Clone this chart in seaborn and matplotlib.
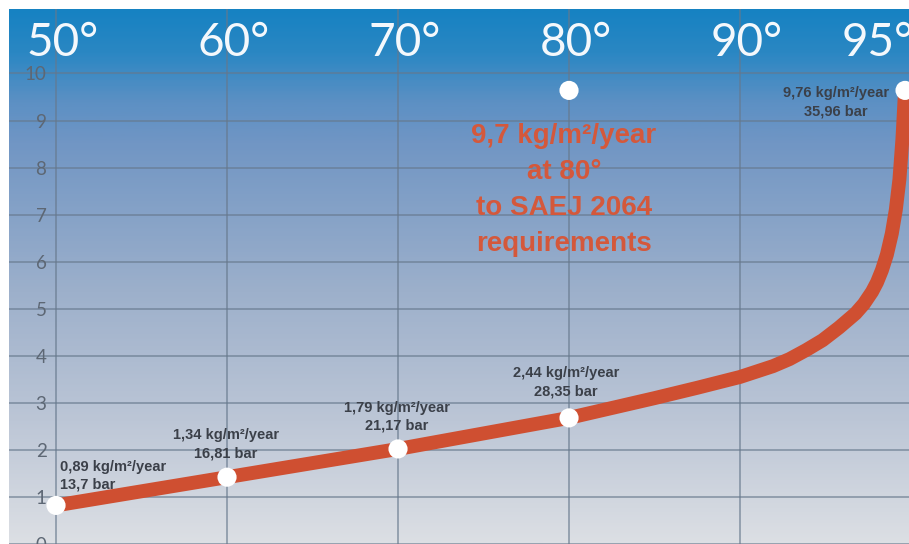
import matplotlib
matplotlib.use("Agg")
import matplotlib.pyplot as plt
import numpy as np
import pandas as pd
import seaborn as sns
from matplotlib.colors import LinearSegmentedColormap

# temperature axis labels (top)
temp_ticks = [50, 60, 70, 80, 90, 95]
temp_labels = ["50°", "60°", "70°", "80°", "90°", "95°"]
y_ticks = [0, 1, 2, 3, 4, 5, 6, 7, 8, 9, 10]

# curve (temperature, rate)
curve_temp = [50, 60, 70, 80, 85, 87.5, 90, 91, 91.5, 92, 92.5, 93, 93.5, 93.75,
              94, 94.15, 94.3, 94.45, 94.6, 94.72, 94.83, 94.92, 95]
curve_rate = [0.82, 1.42, 2.02, 2.68, 3.1, 3.32, 3.55, 3.78, 3.93, 4.12, 4.33,
              4.6, 4.9, 5.1, 5.36, 5.56, 5.82, 6.15, 6.6, 7.1, 7.75, 8.6, 9.64]

# measured points
point_temp = [50, 60, 70, 80, 95]
point_rate = [0.82, 1.42, 2.02, 2.68, 9.64]
point_text = ["0,89 kg/m²/year\n13,7 bar",
              "1,34 kg/m²/year\n16,81 bar",
              "1,79 kg/m²/year\n21,17 bar",
              "2,44 kg/m²/year\n28,35 bar",
              "9,76 kg/m²/year\n35,96 bar"]

# SAEJ 2064 reference point
ref_temp = [80]
ref_rate = [9.64]
ref_text = "9,7 kg/m²/year\nat 80°\nto SAEJ 2064\nrequirements"

RED = "#cf4f31"

sns.set_theme(style="white")
plt.rcParams['font.family'] = ['Liberation Sans', 'DejaVu Sans']


def fwd(t):
    t = np.asarray(t, dtype=float)
    return np.where(t <= 90, t, 90 + 1.93 * (t - 90))


def inv(p):
    p = np.asarray(p, dtype=float)
    return np.where(p <= 90, p, 90 + (p - 90) / 1.93)


fig = plt.figure(figsize=(9.09, 5.44), dpi=100, facecolor="white")
rect = [9 / 909, 0, 900 / 909, 535 / 544]

# background gradient
bg = fig.add_axes(rect, zorder=0)
cmap = LinearSegmentedColormap.from_list("bg", [
    (0.0, "#1682c2"), (0.08, "#2b87c3"), (0.17, "#5c90c4"), (0.25, "#7196c4"),
    (0.53, "#9db0cb"), (0.77, "#bcc6d6"), (1.0, "#dcdfe4")])
grad = np.linspace(0, 1, 300).reshape(-1, 1)
bg.imshow(grad, aspect="auto", cmap=cmap, extent=[0, 1, 0, 1])
bg.axis("off")

ax = fig.add_axes(rect, zorder=1)
ax.set_facecolor("none")
ax.set_xscale("function", functions=(fwd, inv))
ax.set_xlim(47.25, 95.12)
ax.set_ylim(0.105, 11.37)

ax.set_xticks(temp_ticks[:-1])
ax.set_yticks(y_ticks)
ax.set_xticklabels([])
ax.set_yticklabels([str(v) for v in y_ticks], family="Lato", fontsize=13.5, color="#5d6774")
ax.tick_params(axis="y", pad=-27, length=0)
ax.tick_params(axis="x", length=0)
ax.grid(True, color="#66788c", linewidth=1.1, alpha=0.75)
for s in ax.spines.values():
    s.set_visible(False)

df = pd.DataFrame({"temp": curve_temp, "rate": curve_rate})
sns.lineplot(data=df, x="temp", y="rate", ax=ax, color=RED, linewidth=10,
             sort=False, solid_capstyle="butt", solid_joinstyle="round", zorder=3)
pts = pd.DataFrame({"temp": point_temp + ref_temp, "rate": point_rate + ref_rate})
sns.scatterplot(data=pts, x="temp", y="rate", ax=ax, color="white", s=190,
                edgecolor="none", zorder=4, clip_on=True)
ax.set_xlabel("")
ax.set_ylabel("")

# top temperature labels
for t, lbl in zip(temp_ticks, temp_labels):
    dx = 5 if t != 95 else -20
    ax.annotate(lbl, (t, 10.64), xytext=(dx, 0), textcoords="offset points",
                ha="center", va="center", fontsize=33, color="#f4f8fc",
                family="Lato", fontweight="normal", zorder=5)

# point annotations
lab_pos = [(50.23, 1.45, "left"), (59.94, 2.12, "center"), (69.94, 2.705, "center"),
           (79.82, 3.44, "center"), (92.9, 9.39, "center")]
for (x, y, ha), txt in zip(lab_pos, point_text):
    ax.text(x, y, txt, ha=ha, va="center", fontsize=10.5, fontweight="bold",
            color="#3b4049", linespacing=1.4, zorder=5)

ax.text(79.7, 7.52, ref_text, ha="center", va="center", fontsize=20,
        fontweight="bold", color="#d4583b", linespacing=1.5, zorder=5)

fig.savefig("out.png", dpi=100, facecolor="white")
